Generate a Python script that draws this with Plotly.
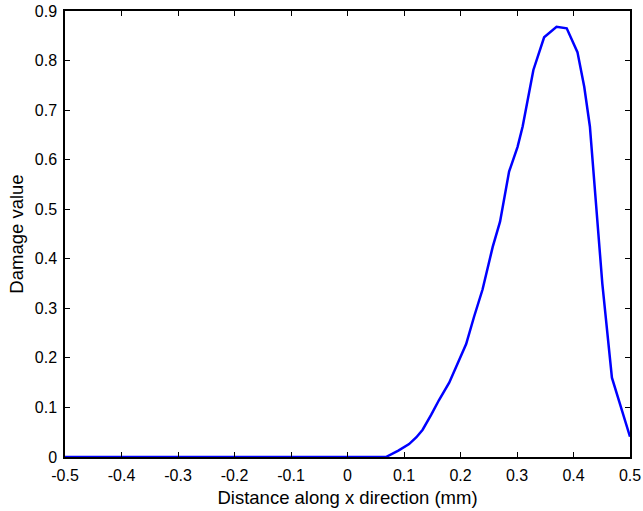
import plotly.graph_objects as go

x_vals = [-0.5, 0.068, 0.090, 0.109, 0.122, 0.133, 0.148, 0.162, 0.180, 0.195, 0.210,
          0.224, 0.239, 0.257, 0.270, 0.286, 0.301, 0.310, 0.319, 0.329, 0.348,
          0.370, 0.388, 0.407, 0.419, 0.429, 0.451, 0.468, 0.500]
damage = [0.0, 0.0, 0.013, 0.026, 0.040, 0.055, 0.085, 0.115, 0.150, 0.190, 0.228,
          0.283, 0.338, 0.424, 0.475, 0.576, 0.626, 0.667, 0.724, 0.781, 0.847,
          0.868, 0.865, 0.817, 0.747, 0.667, 0.350, 0.160, 0.041]

x_ticks = [-0.5, -0.4, -0.3, -0.2, -0.1, 0, 0.1, 0.2, 0.3, 0.4, 0.5]
x_tick_text = ["-0.5", "-0.4", "-0.3", "-0.2", "-0.1", "0", "0.1", "0.2", "0.3", "0.4", "0.5"]
y_ticks = [0, 0.1, 0.2, 0.3, 0.4, 0.5, 0.6, 0.7, 0.8, 0.9]
y_tick_text = ["0", "0.1", "0.2", "0.3", "0.4", "0.5", "0.6", "0.7", "0.8", "0.9"]

FONT = "Liberation Sans, Arial"

fig = go.Figure()
fig.add_trace(go.Scatter(x=x_vals, y=damage, mode="lines",
                         line=dict(color="#0000ff", width=2.5), showlegend=False))

axis_common = dict(showgrid=False, zeroline=False, showline=True, linecolor="black",
                   linewidth=1.5, mirror="ticks", ticks="inside", ticklen=5,
                   tickcolor="black", tickwidth=1,
                   tickfont=dict(family=FONT, size=16, color="black"))

fig.update_xaxes(range=[-0.5, 0.5], tickvals=x_ticks, ticktext=x_tick_text,
                 ticklabelstandoff=3,
                 title=dict(text="Distance along x direction (mm)",
                            font=dict(family=FONT, size=18.5, color="black"),
                            standoff=8),
                 **axis_common)
fig.update_yaxes(range=[0, 0.9], tickvals=y_ticks, ticktext=y_tick_text,
                 ticklabelstandoff=3,
                 title=dict(text="Damage value",
                            font=dict(family=FONT, size=18.5, color="black"),
                            standoff=6),
                 **axis_common)

fig.update_layout(width=643, height=511, plot_bgcolor="white", paper_bgcolor="white",
                  margin=dict(l=65, r=13, t=11, b=54, autoexpand=False))

fig.write_html("out.html")
